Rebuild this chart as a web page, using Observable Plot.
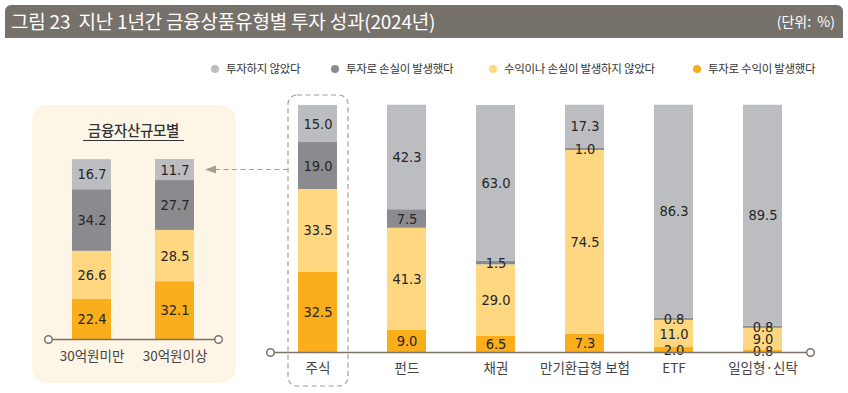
<!DOCTYPE html>
<html>
<head>
<meta charset="utf-8">
<script src="https://cdn.jsdelivr.net/npm/d3@7"></script>
<script src="https://cdn.jsdelivr.net/npm/@observablehq/plot@0.6"></script>
<style>
  html, body { margin: 0; padding: 0; background: #fff; }
  #root { position: relative; width: 848px; height: 393px; overflow: hidden; background: #fff; font-family: "Noto Sans CJK KR", sans-serif; }
  #titlebar { position: absolute; left: 5px; top: 5px; width: 838px; height: 33px; background: #77716b; border-radius: 6px 6px 0 0; color: #fff; }
  #title { position: absolute; left: 6px; top: 4px; font-size: 19px; letter-spacing: -0.2px; line-height: 24px; white-space: nowrap; }
  #unit { position: absolute; right: 8px; top: 7px; font-size: 14px; line-height: 19px; white-space: nowrap; }
  .leg { position: absolute; top: 60px; font-size: 11.5px; color: #333; line-height: 16px; white-space: nowrap; letter-spacing: -0.3px; }
  .leg i { display: inline-block; width: 8px; height: 8px; border-radius: 50%; margin-right: 7px; vertical-align: 0px; }
  #panel { position: absolute; left: 32px; top: 105px; width: 204px; height: 278px; background: #fdf5e5; border-radius: 15px; }
  #ptitle { position: absolute; left: 83px; top: 120px; width: 101px; text-align: center; font-size: 14.5px; font-weight: 500; color: #333; line-height: 20px; border-bottom: 1px solid #333; letter-spacing: -0.3px; }
  #left { position: absolute; left: 32px; top: 140px; }
  #main { position: absolute; left: 260px; top: 90px; }
  #overlay { position: absolute; left: 0; top: 0; }
  .vals text { font-stretch: condensed; }
</style>
</head>
<body>
<div id="root">
  <div id="titlebar">
    <span id="title">그림 23&nbsp;&nbsp;지난 1년간 금융상품유형별 투자 성과(2024년)</span>
    <span id="unit">(단위:&nbsp; %)</span>
  </div>
  <div id="legend"></div>
  <div id="panel"></div>
  <div id="ptitle">금융자산규모별</div>
  <div id="left"></div>
  <div id="main"></div>
  <svg id="overlay" width="848" height="393">
    <line x1="288" y1="169.5" x2="216" y2="169.5" stroke="#a89b8f" stroke-width="1.2" stroke-dasharray="5,3.5"></line>
    <path d="M205,169.5 L216,165.5 L216,173.5 Z" fill="#a89b8f"></path>
  </svg>
</div>
<script>
// ---- data ----
const categories = ["주식", "펀드", "채권", "만기환급형 보험", "ETF", "일임형·신탁"];
const types = ["투자로 수익이 발생했다", "수익이나 손실이 발생하지 않았다", "투자로 손실이 발생했다", "투자하지 않았다"]; // bottom -> top
const legendOrder = ["투자하지 않았다", "투자로 손실이 발생했다", "수익이나 손실이 발생하지 않았다", "투자로 수익이 발생했다"];
const profit  = [32.5,  9.0,  6.5,  7.3,  2.0,  0.8];
const neutral = [33.5, 41.3, 29.0, 74.5, 11.0,  9.0];
const loss    = [19.0,  7.5,  1.5,  1.0,  0.8,  0.8];
const none    = [15.0, 42.3, 63.0, 17.3, 86.3, 89.5];

const sizeGroups  = ["30억원미만", "30억원이상"];
const sizeProfit  = [22.4, 32.1];
const sizeNeutral = [26.6, 28.5];
const sizeLoss    = [34.2, 27.7];
const sizeNone    = [16.7, 11.7];

const colors = ["#fbae1c", "#fed780", "#8b8b8f", "#bcbdc1"];

// ---- tables ----
function buildRows(cats, series) {
  const rows = [];
  cats.forEach((c, i) => {
    series.forEach((s, j) => rows.push({cat: c, type: types[j], value: s[i]}));
  });
  return rows;
}
const mainRows = buildRows(categories, [profit, neutral, loss, none]);
const sizeRows = buildRows(sizeGroups, [sizeProfit, sizeNeutral, sizeLoss, sizeNone]);

// ---- legend ----
const legX = [211, 331, 489, 693];
const legend = document.getElementById("legend");
legendOrder.forEach((t, k) => {
  const d = document.createElement("div");
  d.className = "leg";
  d.style.left = legX[k] + "px";
  d.innerHTML = `<i style="background:${colors[types.indexOf(t)]}"></i>${t}`;
  legend.appendChild(d);
});

const numFont = '"Liberation Sans Narrow", "DejaVu Sans", sans-serif';
const axisColor = "#7d7268";

function stackedChart(rows, cats, opts) {
  return Plot.plot({
    width: opts.width, height: opts.height,
    marginTop: opts.marginTop, marginBottom: opts.marginBottom,
    marginLeft: opts.marginLeft, marginRight: opts.marginRight,
    style: {background: "transparent", fontFamily: '"Noto Sans CJK KR", sans-serif', fontSize: "13.5px", color: "#444", overflow: "visible"},
    x: {domain: cats, paddingInner: opts.pi, paddingOuter: opts.po, label: null, tickSize: 0, tickPadding: opts.tickPadding},
    y: {domain: [0, 100], axis: null},
    color: {domain: types, range: colors},
    marks: [
      Plot.barY(rows, Plot.stackY({x: "cat", y: "value", fill: "type", z: "type"})),
      Plot.text(rows, Plot.stackY({x: "cat", y: "value", z: "type", text: d => d.value.toFixed(1), fill: "#262626", fontSize: 14.5, fontFamily: numFont, className: "vals"})),
      Plot.ruleY([0], {stroke: axisColor, strokeWidth: 1.3}),
      Plot.dot([0], {y: d => d, frameAnchor: "left", r: 3.8, stroke: axisColor, strokeWidth: 1.5, fill: "white"}),
      Plot.dot([0], {y: d => d, frameAnchor: "right", r: 3.8, stroke: axisColor, strokeWidth: 1.5, fill: "white"}),
      ...(opts.extra || [])
    ]
  });
}

document.getElementById("main").appendChild(stackedChart(mainRows, categories, {
  width: 588, height: 303, marginTop: 15, marginBottom: 41, marginLeft: 10, marginRight: 38,
  pi: 0.563, po: 0.308, tickPadding: 11,
  extra: [
    Plot.barY([categories[0]], {x: d => d, y1: 0, y2: 100, insetLeft: -10, insetRight: -11, insetTop: -10, insetBottom: -34,
      fill: "none", stroke: "#a89b8f", strokeWidth: 1.2, strokeDasharray: "5,3.5", rx: 9})
  ]
}));

document.getElementById("left").appendChild(stackedChart(sizeRows, sizeGroups, {
  width: 204, height: 240, marginTop: 19, marginBottom: 41, marginLeft: 16, marginRight: 18,
  pi: 0.536, po: 0.286, tickPadding: 12
}));
</script>
</body>
</html>
